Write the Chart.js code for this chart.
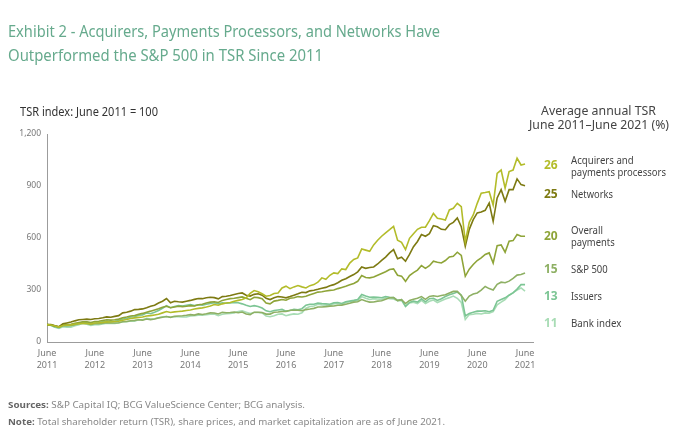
<!DOCTYPE html>
<html>
<head>
<meta charset="utf-8">
<script src="https://cdn.jsdelivr.net/npm/chart.js@4.4.0/dist/chart.umd.min.js"></script>
<style>
  html, body { margin: 0; padding: 0; background: #fff; }
  #page { position: relative; width: 685px; height: 433px; overflow: hidden; font-family: "Noto Sans", sans-serif; }
  #wrap { position: absolute; left: 0; top: 0; width: 685px; height: 433px; }
  .t { position: absolute; white-space: nowrap; line-height: 1; transform-origin: 0 0; }
</style>
</head>
<body>
<div id="page"><div id="wrap"><canvas id="chart"></canvas></div></div>
<script>
// monthly TSR index, June 2011 .. June 2021 (June 2011 = 100)
const years = ["2011", "2012", "2013", "2014", "2015", "2016", "2017", "2018", "2019", "2020", "2021"];

const acquirers = [
  100, 98, 92, 86, 95, 97, 99,
  102, 105, 108, 107, 104, 110, 111, 113, 116, 115, 118, 120,
  126, 130, 136, 139, 142, 144, 150, 152, 156, 160, 168, 176,
  170, 174, 176, 178, 182, 185, 190, 194, 197, 202, 208, 216,
  212, 220, 225, 228, 235, 240, 245, 255, 280, 297, 290, 278,
  264, 268, 280, 283, 312, 322, 308, 318, 326, 318, 312, 325,
  331, 345, 370, 362, 385, 399, 395, 422, 418, 455, 476, 485,
  537, 530, 523, 560, 587, 610, 630, 648, 667, 587, 575, 533,
  598, 625, 650, 662, 662, 700, 742, 714, 710, 704, 762, 771,
  800, 781, 579, 690, 733, 800, 858, 862, 867, 790, 973, 992,
  887, 983, 992, 1060, 1021, 1027
];
const networks = [
  100, 100, 93, 88, 105, 110, 115,
  122, 128, 130, 132, 130, 134, 136, 140, 145, 143, 148, 152,
  168, 172, 178, 187, 188, 191, 198, 206, 212, 225, 235, 251,
  226, 235, 232, 230, 235, 240, 246, 251, 250, 255, 258, 256,
  249, 262, 264, 268, 274, 280, 283, 270, 265, 275, 278, 270,
  252, 245, 255, 262, 260, 255, 262, 270, 278, 287, 285, 295,
  299, 304, 310, 315, 325, 331, 342, 356, 365, 378, 389, 405,
  433, 425, 430, 433, 450, 471, 490, 514, 533, 480, 489, 466,
  505, 550, 580, 620, 610, 625, 671, 665, 650, 648, 677, 690,
  716, 665, 552, 650, 706, 745, 750, 760, 802, 696, 831, 879,
  812, 879, 879, 941, 908, 902
];
const overallPayments = [
  100, 98, 92, 87, 98, 100, 102,
  108, 112, 116, 117, 112, 118, 120, 124, 128, 126, 128, 132,
  140, 144, 150, 153, 160, 165, 172, 178, 185, 192, 200, 206,
  198, 202, 206, 204, 206, 210, 208, 215, 218, 225, 230, 232,
  228, 240, 245, 250, 252, 256, 260, 252, 244, 258, 256, 250,
  225, 220, 236, 240, 245, 241, 252, 255, 262, 260, 264, 272,
  280, 288, 290, 294, 298, 300, 308, 315, 322, 330, 338, 350,
  383, 372, 370, 375, 385, 395, 405, 418, 422, 385, 380, 350,
  383, 400, 415, 441, 425, 440, 466, 460, 456, 470, 491, 495,
  518, 500, 379, 420, 447, 470, 485, 505, 514, 456, 556, 560,
  518, 581, 585, 620, 610, 610
];
const sp500 = [
  100, 98, 92, 86, 95, 95, 96,
  100, 105, 108, 107, 101, 105, 106, 109, 111, 110, 110, 111,
  117, 118, 123, 125, 128, 126, 133, 129, 133, 139, 143, 147,
  142, 148, 150, 151, 154, 158, 155, 162, 159, 163, 168, 167,
  162, 171, 169, 170, 173, 169, 173, 162, 158, 172, 172, 170,
  161, 161, 172, 173, 176, 176, 183, 183, 183, 180, 187, 190,
  194, 202, 202, 204, 207, 208, 212, 213, 218, 223, 230, 232,
  245, 236, 230, 231, 236, 238, 247, 255, 256, 239, 244, 222,
  240, 247, 252, 262, 246, 263, 267, 263, 268, 273, 283, 292,
  292, 268, 235, 265, 277, 283, 299, 320, 308, 300, 333, 345,
  342, 351, 367, 386, 389, 398
];
const issuers = [
  100, 97, 86, 82, 94, 93, 95,
  103, 108, 114, 113, 106, 110, 112, 117, 121, 118, 120, 124,
  133, 136, 144, 146, 155, 156, 168, 163, 172, 182, 195, 210,
  198, 205, 210, 208, 212, 216, 210, 215, 212, 218, 222, 226,
  220, 226, 224, 225, 228, 226, 220, 212, 205, 210, 205, 196,
  180, 175, 182, 185, 188, 178, 182, 188, 186, 192, 212, 218,
  218, 225, 222, 220, 218, 226, 228, 222, 232, 236, 240, 245,
  274, 265, 258, 260, 258, 255, 262, 258, 256, 240, 244, 206,
  228, 236, 230, 249, 232, 250, 252, 240, 250, 262, 272, 280,
  288, 270, 150, 165, 172, 178, 178, 180, 175, 183, 235, 245,
  255, 270, 283, 305, 331, 331
];
const bankIndex = [
  100, 95, 85, 78, 88, 86, 86,
  94, 100, 108, 103, 95, 100, 100, 104, 108, 107, 107, 110,
  117, 117, 121, 120, 128, 128, 137, 132, 134, 140, 146, 147,
  143, 146, 146, 144, 145, 150, 152, 155, 154, 157, 160, 162,
  152, 160, 163, 165, 168, 176, 180, 172, 164, 170, 170, 168,
  150, 146, 152, 160, 162, 152, 158, 162, 160, 168, 195, 205,
  208, 218, 214, 212, 210, 220, 222, 216, 228, 232, 236, 240,
  262, 252, 245, 250, 248, 245, 255, 250, 248, 238, 240, 205,
  225, 230, 222, 240, 222, 235, 242, 228, 238, 248, 256, 265,
  252, 228, 130, 158, 160, 165, 162, 168, 166, 175, 215, 230,
  245, 270, 285, 300, 312, 293
];

const seriesNames = ["Acquirers and<br>payments processors", "Networks", "Overall<br>payments", "S&amp;P 500", "Issuers", "Bank index"];
const avgTSR = [26, 25, 20, 15, 13, 11];
const seriesData = [acquirers, networks, overallPayments, sp500, issuers, bankIndex];
const seriesColors = ["#b3bc2a", "#7d7a12", "#8ea438", "#8eb064", "#7cc594", "#a8dcb5"];

const months = acquirers.map((v, i) => i);

new Chart(document.getElementById("chart"), {
  type: "line",
  data: {
    labels: months,
    datasets: seriesData.map((d, i) => ({
      data: d,
      borderColor: seriesColors[i],
      borderWidth: 1.6,
      pointRadius: 0,
      tension: 0,
      fill: false
    }))
  },
  options: {
    responsive: true,
    maintainAspectRatio: false,
    animation: false,
    layout: { padding: { top: 134, right: 152, bottom: 0, left: 0 } },
    plugins: { legend: { display: false }, tooltip: { enabled: false } },
    scales: {
      x: {
        type: "linear",
        min: 0,
        max: 122,
        grid: { display: false, drawTicks: false },
        border: { color: "#9c9c9c", width: 1 },
        ticks: {
          stepSize: 12,
          includeBounds: false,
          autoSkip: false,
          maxRotation: 0,
          padding: 6,
          color: "#777",
          font: { family: "Noto Sans", size: 9, lineHeight: 1.3 },
          callback: (v) => (v % 12 === 0 ? ["June", years[v / 12]] : "")
        },
        afterFit: (s) => { s.height = 91; }
      },
      y: {
        min: 0,
        max: 1200,
        grid: { display: false, drawTicks: false },
        border: { color: "#9c9c9c", width: 1 },
        ticks: {
          stepSize: 300,
          padding: 6,
          color: "#777",
          font: { family: "Noto Sans", size: 8.5 }
        },
        afterFit: (s) => { s.width = 47; }
      }
    }
  }
});

// text
const page = document.getElementById("page");
function addText(html, x, base, size, color, width, opts) {
  opts = opts || {};
  const el = document.createElement("div");
  el.className = "t";
  el.innerHTML = html;
  el.style.fontSize = size + "px";
  el.style.color = color;
  el.style.top = (base - 0.888 * size) + "px";
  if (opts.bold) el.style.fontWeight = "bold";
  page.appendChild(el);
  const w0 = el.getBoundingClientRect().width;
  const w = width || w0;
  if (width) el.style.transform = "scaleX(" + (width / w0) + ")";
  el.style.left = (opts.center ? x - w / 2 : x) + "px";
  return el;
}

const titleColor = "#66aa8d";
addText("Exhibit 2 - Acquirers, Payments Processors, and Networks Have", 8, 37.7, 16.4, titleColor, 432);
addText("Outperformed the S&amp;P 500 in TSR Since 2011", 8, 61.7, 16.4, titleColor, 315);
addText("TSR index: June 2011 = 100", 20, 116.7, 12, "#333", 138);
addText("Average annual TSR", 598.5, 116, 12, "#444", 115, { center: true });
addText("June 2011–June 2021 (%)", 599.3, 130, 12, "#444", 140, { center: true });

const numBase = [170, 199, 240.7, 273.3, 300.7, 327.7];
const labelBase = [164, 198.3, 234, 273.3, 300.7, 327.5];
const labelWidths = [[62.7, 95], [42], [32, 43.7], [36.7], [31], [50.3]];
seriesNames.forEach((name, i) => {
  addText(String(avgTSR[i]), 544, numBase[i], 12, seriesColors[i], null, { bold: true });
  name.split("<br>").forEach((line, j) => {
    addText(line, 570.7, labelBase[i] + j * 12, 10.5, "#444", labelWidths[i][j]);
  });
});

addText("<b style='color:#666'>Sources:</b> S&amp;P Capital IQ; BCG ValueScience Center; BCG analysis.", 8.3, 408.3, 9.5, "#888", 297);
addText("<b style='color:#666'>Note:</b> Total shareholder return (TSR), share prices, and market capitalization are as of June 2021.", 8.3, 425, 9.5, "#888", 437);
</script>
</body>
</html>
